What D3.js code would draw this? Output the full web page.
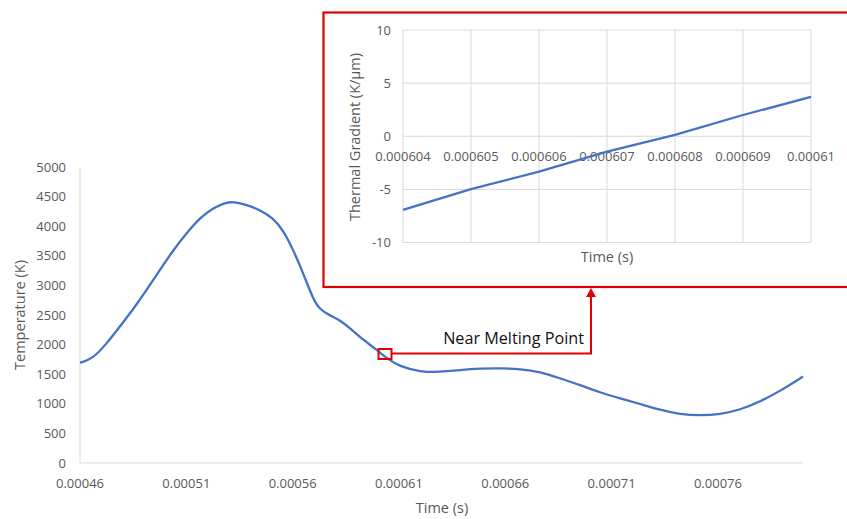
<!DOCTYPE html>
<html><head><meta charset="utf-8">
<script src="https://cdn.jsdelivr.net/npm/d3@7"></script>
<style>body{margin:0;background:#fff}svg{display:block}text{font-family:"Open Sans",sans-serif}</style>
</head><body>
<script>
// Main series: time (s) and temperature (K)
const mainTime = [0.00046,0.000466,0.0004726,0.0004788,0.0004851,0.0004914,0.0004976,0.0005039,0.0005102,0.0005164,0.0005227,0.000529,0.0005321,0.0005384,0.0005447,0.0005509,0.0005556,0.0005603,0.000565,0.0005697,0.0005729,0.0005776,0.0005823,0.000587,0.0005933,0.0005996,0.0006043,0.0006105,0.00062,0.0006293,0.0006387,0.0006481,0.0006576,0.000667,0.0006764,0.0006858,0.0006952,0.0007046,0.000714,0.0007234,0.0007328,0.0007422,0.0007516,0.000761,0.0007704,0.0007798,0.0007893,0.0008];
const mainTemp = [1694,1760,2020,2310,2600,2925,3262,3598,3885,4140,4315,4405,4410,4362,4275,4133,3930,3598,3204,2760,2590,2490,2412,2275,2078,1909,1768,1627,1540,1535,1572,1598,1602,1588,1543,1430,1318,1190,1093,997,897,822,800,822,897,1036,1216,1460];
const mainXTicks = ["0.00046","0.00051","0.00056","0.00061","0.00066","0.00071","0.00076"];
const mainYTicks = [0,500,1000,1500,2000,2500,3000,3500,4000,4500,5000];
// Inset series: thermal gradient (K/µm)
const insetTime = [0.000604,0.000605,0.000606,0.000607,0.000608,0.000609,0.00061];
const insetGrad = [-6.93,-4.98,-3.33,-1.45,0.12,2.0,3.7];
const insetXTicks = ["0.000604","0.000605","0.000606","0.000607","0.000608","0.000609","0.00061"];
const insetYTicks = [-10,-5,0,5,10];
const annotation = "Near Melting Point";

const W=847,H=519;
const svg=d3.select("body").append("svg").attr("width",W).attr("height",H);
const gray="#595959", grid="#d9d9d9", blue="#4472C4", red="#e00000";

// ---- main chart
const x=d3.scaleLinear().domain([0.00046,0.0008]).range([80,803]);
const y=d3.scaleLinear().domain([0,5000]).range([463,167]);
const g=svg.append("g");
g.append("line").attr("x1",80).attr("x2",803).attr("y1",y(0)).attr("y2",y(0)).attr("stroke",grid).attr("stroke-width",1);
g.append("line").attr("x1",80).attr("x2",80).attr("y1",y(0)).attr("y2",y(5000)).attr("stroke",grid).attr("stroke-width",1);
g.selectAll(".yt").data(mainYTicks).join("text").attr("x",66).attr("y",d=>y(d)).attr("dy","0.35em")
 .attr("text-anchor","end").attr("font-size",13).attr("fill",gray).text(d=>d);
g.selectAll(".xt").data(mainXTicks).join("text").attr("x",d=>x(+d)).attr("y",488).attr("text-anchor","middle")
 .attr("font-size",13).attr("fill",gray).text(d=>d);
g.append("text").attr("x",442).attr("y",513).attr("text-anchor","middle").attr("font-size",14.5).attr("fill",gray).text("Time (s)");
g.append("text").attr("transform","translate(25,315) rotate(-90)").attr("text-anchor","middle").attr("font-size",14.5).attr("fill",gray).text("Temperature (K)");
const line=d3.line().x((d,i)=>x(mainTime[i])).y(d=>y(d)).curve(d3.curveBasis);
g.append("path").datum(mainTemp).attr("d",line).attr("fill","none").attr("stroke",blue).attr("stroke-width",2.3);

// ---- annotation
g.append("rect").attr("x",378.5).attr("y",349).attr("width",13).attr("height",10).attr("fill","none").attr("stroke",red).attr("stroke-width",2);
g.append("path").attr("d","M391.5,353.5 H591 V295").attr("fill","none").attr("stroke",red).attr("stroke-width",2);
g.append("path").attr("d","M586,297 L591,288 L596,297 Z").attr("fill",red);
g.append("text").attr("x",584).attr("y",344).attr("text-anchor","end").attr("font-size",16.2).attr("fill","#111").text(annotation);

// ---- inset
const ib=svg.append("g");
ib.append("rect").attr("x",323.5).attr("y",12.5).attr("width",540).attr("height",274.5).attr("fill","#fff").attr("stroke",red).attr("stroke-width",2.2);
const ix=d3.scaleLinear().domain([0.000604,0.00061]).range([403,811]);
const iy=d3.scaleLinear().domain([-10,10]).range([242.5,30]);
ib.selectAll(".gx").data(insetXTicks).join("line").attr("x1",d=>ix(+d)).attr("x2",d=>ix(+d)).attr("y1",30).attr("y2",242.5).attr("stroke",grid);
ib.selectAll(".gy").data(insetYTicks).join("line").attr("x1",403).attr("x2",811).attr("y1",d=>iy(d)).attr("y2",d=>iy(d)).attr("stroke",grid);
ib.selectAll(".iyt").data(insetYTicks).join("text").attr("x",391).attr("y",d=>iy(d)).attr("dy","0.35em")
 .attr("text-anchor","end").attr("font-size",13).attr("fill",gray).text(d=>d);
ib.selectAll(".ixt").data(insetXTicks).join("text").attr("x",d=>ix(+d)).attr("y",161).attr("text-anchor","middle")
 .attr("font-size",13).attr("fill",gray).text(d=>d);
const iline=d3.line().x((d,i)=>ix(insetTime[i])).y(d=>iy(d));
ib.append("path").datum(insetGrad).attr("d",iline).attr("fill","none").attr("stroke",blue).attr("stroke-width",2.3);
ib.append("text").attr("x",607).attr("y",262).attr("text-anchor","middle").attr("font-size",14.5).attr("fill",gray).text("Time (s)");
ib.append("text").attr("transform","translate(360,137) rotate(-90)").attr("text-anchor","middle").attr("font-size",14.5).attr("fill",gray).text("Thermal Gradient (K/µm)");
</script>
</body></html>
